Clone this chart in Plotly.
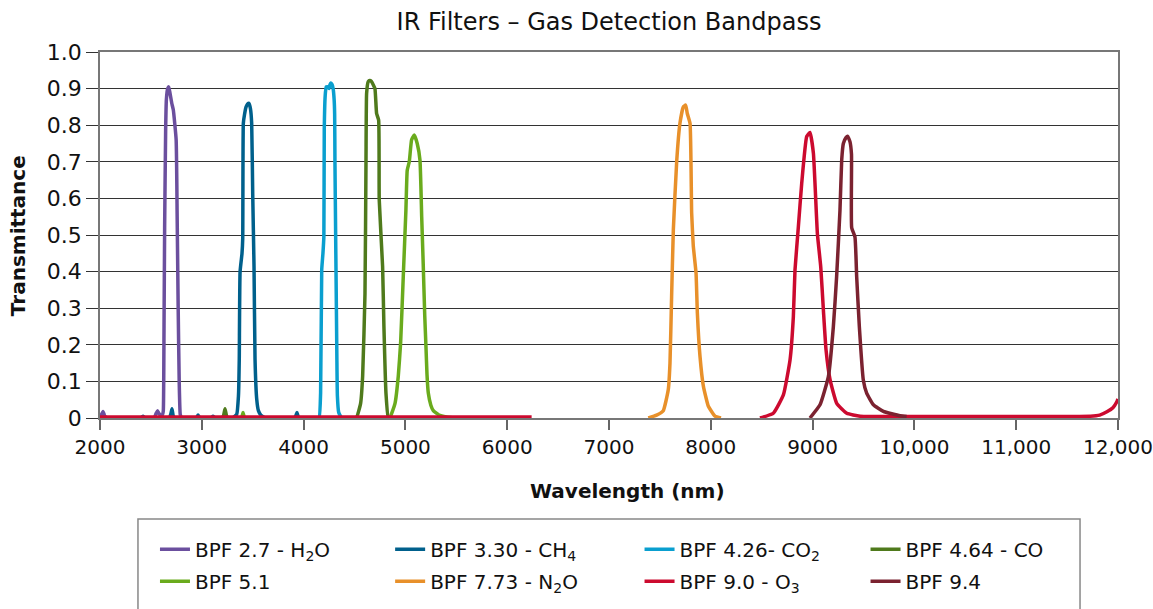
import plotly.graph_objects as go

# ---------------- data ----------------
h2o_nm = [2000, 2015, 2030, 2045, 2070, 2530, 2550, 2565, 2580, 2600, 2615, 2622, 2629, 2635, 2645, 2652,
          2665, 2675, 2688, 2705, 2720, 2748, 2758, 2768, 2778, 2788, 2800]
h2o_t = [0.0, 0.01, 0.018, 0.006, 0.0, 0.0, 0.012, 0.02, 0.012, 0.006, 0.01, 0.02, 0.25, 0.52, 0.79, 0.87,
         0.9, 0.905, 0.887, 0.86, 0.842, 0.76, 0.55, 0.3, 0.1, 0.01, 0.0]

ch4_nm = [2400, 2422, 2440, 2680, 2695, 2707, 2720, 2740, 2945, 2963, 2980, 3090, 3110, 3130, 3300, 3343,
          3360, 3368, 3376, 3395, 3402, 3408, 3420, 3435, 3450, 3464, 3478, 3490, 3500, 3513, 3523, 3540,
          3556, 3580, 3605, 3625, 3640, 3900, 3922, 3935, 3948, 3970]
ch4_t = [0.0, 0.005, 0.0, 0.0, 0.01, 0.025, 0.005, 0.0, 0.0, 0.008, 0.0, 0.0, 0.005, 0.0, 0.0, 0.01,
         0.06, 0.16, 0.40, 0.45, 0.49, 0.805, 0.83, 0.85, 0.858, 0.86, 0.845, 0.805, 0.614, 0.414, 0.16, 0.05,
         0.02, 0.008, 0.003, 0.0, 0.0, 0.0, 0.005, 0.015, 0.003, 0.0]

co2_nm = [4100, 4151, 4167, 4178, 4190, 4199, 4203, 4212, 4222, 4240, 4250, 4258, 4265, 4278, 4290, 4300,
          4305, 4308, 4314, 4322, 4327, 4332, 4345, 4370, 4400]
co2_t = [0.0, 0.0, 0.068, 0.405, 0.45, 0.495, 0.79, 0.88, 0.905, 0.905, 0.9, 0.91, 0.915, 0.912, 0.9, 0.87,
         0.83, 0.7, 0.523, 0.3, 0.16, 0.06, 0.015, 0.002, 0.0]

co_nm = [3190, 3212, 3228, 3244, 3265, 4500, 4521, 4560, 4580, 4603, 4613, 4619, 4635, 4650, 4665, 4685,
         4701, 4717, 4737, 4743, 4776, 4789, 4809, 4832, 4850]
co_t = [0.0, 0.005, 0.025, 0.005, 0.0, 0.0, 0.002, 0.04, 0.114, 0.34, 0.705, 0.887, 0.919, 0.922, 0.92, 0.91,
        0.9, 0.832, 0.814, 0.596, 0.414, 0.25, 0.068, 0.0, 0.0]

b51_nm = [3380, 3395, 3405, 3415, 3430, 4830, 4849, 4898, 4930, 4953, 4979, 5005, 5018, 5038, 5061, 5087,
          5116, 5143, 5160, 5175, 5190, 5202, 5212, 5225, 5250, 5274, 5330, 5405, 5500]
b51_t = [0.0, 0.004, 0.015, 0.004, 0.0, 0.0, 0.002, 0.04, 0.114, 0.205, 0.386, 0.568, 0.677, 0.7, 0.76, 0.773,
         0.75, 0.705, 0.55, 0.42, 0.28, 0.195, 0.12, 0.068, 0.035, 0.02, 0.008, 0.003, 0.0]

n2o_nm = [7386, 7468, 7533, 7582, 7599, 7615, 7632, 7665, 7697, 7730, 7753, 7769, 7796, 7812, 7828, 7855,
          7868, 7894, 7927, 7976, 8041, 8100]
n2o_t = [0.0, 0.008, 0.02, 0.077, 0.15, 0.332, 0.514, 0.701, 0.805, 0.85, 0.855, 0.832, 0.805, 0.56, 0.47, 0.396,
         0.287, 0.168, 0.087, 0.032, 0.005, 0.0]

o3_nm = [2000, 6240, None, 8483, 8614, 8713, 8778, 8811, 8827, 8860, 8893, 8942, 8975, 9008, 9047, 9080,
         9106, 9132, 9172, 9237, 9336, 9467, 10000, 11000, 11728, 11820, 11891, 11950, 11990, 12000]
o3_t = [0.003, 0.003, None, 0.0, 0.013, 0.063, 0.158, 0.277, 0.404, 0.522, 0.641, 0.769, 0.78, 0.723, 0.504, 0.413,
        0.295, 0.186, 0.104, 0.04, 0.013, 0.005, 0.004, 0.004, 0.005, 0.008, 0.017, 0.028, 0.045, 0.052]

b94_nm = [8974, 9073, 9155, 9204, 9236, 9269, 9286, 9302, 9328, 9344, 9367, 9382, 9384, 9416, 9433, 9459,
          9498, 9531, 9597, 9695, 9859, 9924]
b94_t = [0.0, 0.036, 0.113, 0.25, 0.386, 0.568, 0.705, 0.75, 0.766, 0.77, 0.755, 0.72, 0.52, 0.495, 0.386, 0.25,
         0.104, 0.068, 0.036, 0.018, 0.006, 0.004]

x_tickvals = [2000, 3000, 4000, 5000, 6000, 7000, 8000, 9000, 10000, 11000, 12000]
x_ticktext = ["2000", "3000", "4000", "5000", "6000", "7000", "8000", "9000", "10,000", "11,000", "12,000"]
y_tickvals = [0, 0.1, 0.2, 0.3, 0.4, 0.5, 0.6, 0.7, 0.8, 0.9, 1.0]
y_ticktext = ["0", "0.1", "0.2", "0.3", "0.4", "0.5", "0.6", "0.7", "0.8", "0.9", "1.0"]

# ---------------- figure ----------------
FONT = "DejaVu Sans"
series = [
    ("BPF 2.7 - H<sub>2</sub>O", h2o_nm, h2o_t, "#6b4f9e", "legend"),
    ("BPF 3.30 - CH<sub>4</sub>", ch4_nm, ch4_t, "#00608c", "legend2"),
    ("BPF 4.26- CO<sub>2</sub>", co2_nm, co2_t, "#0a9fcf", "legend3"),
    ("BPF 4.64 - CO", co_nm, co_t, "#4f7a1c", "legend4"),
    ("BPF 5.1", b51_nm, b51_t, "#6aab1d", "legend"),
    ("BPF 7.73 - N<sub>2</sub>O", n2o_nm, n2o_t, "#e8902a", "legend2"),
    ("BPF 9.0 - O<sub>3</sub>", o3_nm, o3_t, "#cc0a2f", "legend3"),
    ("BPF 9.4", b94_nm, b94_t, "#7b2230", "legend4"),
]

fig = go.Figure()
for i, (nm, xs, ys, col, lg) in enumerate(series):
    fig.add_trace(go.Scatter(x=xs, y=ys, mode="lines", name=nm, legend=lg,
                             legendgroup=f"g{i}",
                             line=dict(color=col, width=3.5, shape="spline", smoothing=0.4),
                             connectgaps=False))

legend_common = dict(orientation="v", yanchor="top", xanchor="left", y=-0.305,
                     font=dict(family=FONT, size=20, color="#111"),
                     bgcolor="rgba(0,0,0,0)", borderwidth=0, tracegroupgap=3,
                     itemwidth=30)

fig.update_layout(
    width=1153, height=609,
    margin=dict(l=100, r=35, t=52, b=191, autoexpand=False),
    paper_bgcolor="white", plot_bgcolor="white",
    font=dict(family=FONT, color="#111"),
    title=dict(text="IR Filters – Gas Detection Bandpass", x=0.5, xref="paper", xanchor="center",
               y=1 - 22 / 609, yref="container", yanchor="middle",
               font=dict(family=FONT, size=24, color="#111")),
    xaxis=dict(range=[2000, 12000], tickvals=x_tickvals, ticktext=x_ticktext,
               showgrid=False, zeroline=False, showline=True, linecolor="#777", linewidth=1.5,
               mirror=True, ticks="outside", ticklen=10, tickcolor="#666", tickwidth=1.5,
               ticklabeloverflow="allow",
               tickfont=dict(family=FONT, size=20, color="#111")),
    yaxis=dict(range=[0, 1.0], tickvals=y_tickvals, ticktext=y_ticktext,
               showgrid=True, gridcolor="#333", gridwidth=1, zeroline=False,
               showline=True, linecolor="#777", linewidth=1.5, mirror=True,
               ticks="outside", ticklen=12, tickcolor="#333", tickwidth=1,
               ticklabeloverflow="allow",
               tickfont=dict(family=FONT, size=22, color="#111")),
    legend=dict(x=0.054, **legend_common),
    legend2=dict(x=0.285, **legend_common),
    legend3=dict(x=0.530, **legend_common),
    legend4=dict(x=0.752, **legend_common),
    showlegend=True,
)

fig.add_annotation(text="Wavelength (nm)", x=0.5177, y=-0.199, xref="paper", yref="paper",
                   xanchor="center", yanchor="middle", showarrow=False,
                   font=dict(family=FONT, size=20, color="#111", weight="bold"))
fig.add_annotation(text="Transmittance", x=-0.0805, y=0.497, xref="paper", yref="paper",
                   xanchor="center", yanchor="middle", showarrow=False, textangle=-90,
                   font=dict(family=FONT, size=20, color="#111", weight="bold"))

fig.add_shape(type="rect", xref="paper", yref="paper", x0=0.0373, x1=0.9627, y0=-0.276, y1=-0.56,
              line=dict(color="#888", width=1.5), fillcolor="rgba(0,0,0,0)", layer="below")

fig.write_html("out.html", config={"displayModeBar": False},
               post_script="document.body.style.margin='0px';")
